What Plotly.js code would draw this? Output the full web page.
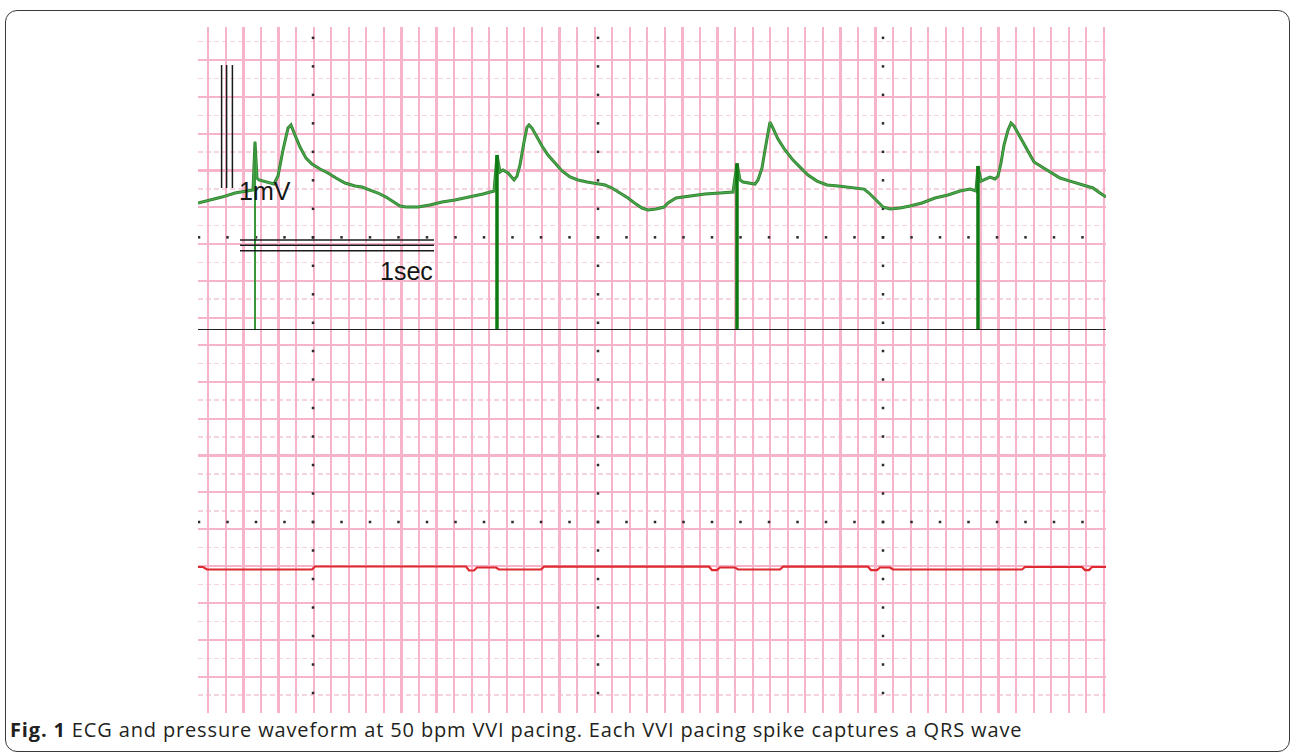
<!DOCTYPE html>
<html>
<head>
<meta charset="utf-8">
<script src="https://cdn.plot.ly/plotly-3.0.1.min.js"></script>
<style>
  html, body { margin: 0; padding: 0; background: #ffffff; }
  #wrap { position: relative; width: 1296px; height: 754px; overflow: hidden; }
  #frame { position: absolute; left: 5px; top: 10px; width: 1285px; height: 742px;
           box-sizing: border-box; border: 1.5px solid #3a3a3a; border-radius: 12px; }
  #chart { position: absolute; left: 0; top: 0; width: 1296px; height: 754px; }
  #caption { position: absolute; left: 10px; top: 716px; font-family: "Open Sans", "Noto Sans", sans-serif;
             font-size: 20px; letter-spacing: 0.85px; color: #231f20; white-space: nowrap; line-height: normal; }
  #caption b { font-weight: 700; }
</style>
</head>
<body>
<div id="wrap">
  <div id="frame"></div>
  <div id="chart"></div>
  <div id="caption"><b>Fig. 1</b> ECG and pressure waveform at 50 bpm VVI pacing. Each VVI pacing spike captures a QRS wave</div>
</div>
<script>
// ---------------- DATA ----------------
// ECG channel: time (s) and voltage (mV)
const ecgTime = [0.000,0.060,0.120,0.185,0.235,0.275,0.285,0.295,0.305,0.340,0.380,0.400,0.425,0.450,0.465,0.485,0.510,0.540,0.570,0.610,0.650,0.690,0.735,0.785,0.820,0.860,0.900,0.940,0.980,1.010,1.040,1.100,1.160,1.220,1.285,1.360,1.425,1.480,
  1.495,1.510,1.525,1.550,1.570,1.580,1.595,1.610,1.630,1.645,1.655,1.670,1.695,1.720,1.750,1.785,1.820,1.860,1.900,1.945,1.995,2.035,2.070,2.110,2.150,2.190,2.220,2.250,2.290,2.330,2.350,2.390,2.460,2.535,2.610,2.675,
  2.695,2.710,2.725,2.760,2.785,2.800,2.820,2.835,2.845,2.855,2.860,2.875,2.900,2.935,2.975,3.010,3.050,3.095,3.145,3.200,3.250,3.300,3.330,3.355,3.390,3.425,3.460,3.510,3.560,3.620,3.685,3.750,3.810,3.860,3.890,
  3.900,3.915,3.935,3.960,3.985,4.000,4.015,4.030,4.050,4.065,4.080,4.110,4.145,4.180,4.220,4.260,4.310,4.360,4.410,4.450,4.475,4.510,4.540];
const ecgMv = [-0.024,0.000,0.024,0.057,0.073,0.081,0.474,0.179,0.163,0.146,0.130,0.195,0.407,0.585,0.610,0.528,0.431,0.341,0.293,0.252,0.220,0.179,0.138,0.114,0.106,0.081,0.057,0.024,-0.016,-0.049,-0.057,-0.057,-0.041,-0.016,0.000,0.024,0.049,0.073,
  0.366,0.228,0.244,0.220,0.187,0.163,0.195,0.285,0.472,0.593,0.610,0.585,0.512,0.439,0.366,0.301,0.236,0.187,0.163,0.146,0.130,0.122,0.098,0.057,0.016,-0.033,-0.065,-0.081,-0.073,-0.057,-0.024,0.016,0.033,0.049,0.057,0.065,
  0.298,0.163,0.146,0.138,0.130,0.163,0.260,0.407,0.488,0.585,0.634,0.585,0.496,0.407,0.325,0.268,0.203,0.154,0.122,0.114,0.106,0.098,0.089,0.057,0.000,-0.057,-0.073,-0.065,-0.049,-0.024,0.016,0.041,0.073,0.089,0.073,
  0.276,0.154,0.171,0.187,0.171,0.195,0.301,0.447,0.569,0.626,0.602,0.512,0.407,0.309,0.268,0.228,0.179,0.154,0.130,0.114,0.098,0.057,0.024];

// VVI pacing spikes: time (s) and top of spike (mV); they reach down to the channel floor
const spikeTime = [0.285, 1.495, 2.695, 3.900];
const spikeTop  = [0.474, 0.366, 0.298, 0.276];

// Pressure channel: time (s) and pressure (mmHg, arbitrary baseline)
const presTime = [0.000,0.025,0.045,0.570,0.585,1.340,1.355,1.380,1.395,1.490,1.505,1.715,1.730,2.555,2.570,2.595,2.610,2.685,2.700,2.910,2.925,3.350,3.365,3.395,3.410,3.460,3.475,3.890,3.905,4.120,4.135,4.420,4.435,4.455,4.470,4.540];
const presVal  = [39.60,39.60,38.92,38.92,39.73,39.73,38.65,38.65,39.46,39.46,38.92,38.92,39.68,39.68,38.78,38.78,39.46,39.46,38.92,38.92,39.68,39.68,38.78,38.78,39.46,39.46,38.92,38.92,38.92,38.92,39.60,39.60,38.78,38.78,39.60,39.60];

// Calibration marks
const calMvTimes = [0.118, 0.143, 0.172];   // three 1 mV bars
const calMvBase = 0.0976;                     // mV
const calMvSize = 1.0;                        // mV
const calSecLevels = [-0.325, -0.368, -0.412];// mV, three 1 s bars
const calSecStart = 0.21;                     // s
const calSecSize = 0.97;                      // s (as drawn)
const calLabels = ["1mV", "1sec"];

// Monitor grid decorations
const gridXTick0 = 0.0515, gridXStep = 0.0878;          // s
const ecgGridTick0 = 1.1382, ecgGridStep = 0.2992;       // mV
const presGridTick0 = 9.845, presGridStep = 10.0;        // mmHg
const dotColTimes = [0.575, 2.0, 3.425];                 // s
const dotStepT = 0.1425;                                 // s
const ecgDotRow = -0.3033, ecgDotStep = 0.2317;          // mV
const presDotRow = 51.80, presDotStep = 7.73;            // mmHg

const xRange = [0, 4.54];
const ecgRange = [-1.057, 1.407];
const presRange = [0, 103.88];

// ---------------- BUILD ----------------
const spikeX = [], spikeY = [], spikeX1 = [], spikeY1 = [];
spikeTime.forEach((t, i) => {
  if (i === 0) { spikeX1.push(t, t, null); spikeY1.push(ecgRange[0], spikeTop[i], null); }
  else { spikeX.push(t, t, null); spikeY.push(ecgRange[0], spikeTop[i], null); }
});

// dots along dotted grid lines
const ecgDotX = [], ecgDotY = [], presDotX = [], presDotY = [];
dotColTimes.forEach(t => {
  for (let k = -12; k <= 12; k++) {
    const v = ecgDotRow + k * ecgDotStep;
    if (v > ecgRange[0] + 0.03 && v < ecgRange[1]) { ecgDotX.push(t); ecgDotY.push(v); }
    const p = presDotRow + k * presDotStep;
    if (p > presRange[0] && p < presRange[1] - 1) { presDotX.push(t); presDotY.push(p); }
  }
});
for (let k = -20; k <= 20; k++) {
  const t = dotColTimes[1] + k * dotStepT;
  if (t > xRange[0] && t < xRange[1]) {
    ecgDotX.push(t); ecgDotY.push(ecgDotRow);
    presDotX.push(t); presDotY.push(presDotRow);
  }
}

const traces = [
  { x: ecgDotX, y: ecgDotY, xaxis: 'x', yaxis: 'y', mode: 'markers', type: 'scatter',
    marker: { symbol: 'square', size: 2.5, color: '#2a2a2a' }, hoverinfo: 'skip' },
  { x: presDotX, y: presDotY, xaxis: 'x', yaxis: 'y2', mode: 'markers', type: 'scatter',
    marker: { symbol: 'square', size: 2.5, color: '#2a2a2a' }, hoverinfo: 'skip' },
  { x: presTime, y: presVal, xaxis: 'x', yaxis: 'y2', mode: 'lines', type: 'scatter',
    line: { color: '#dd2a2e', width: 2.2 } },
  { x: ecgTime, y: ecgMv, xaxis: 'x', yaxis: 'y', mode: 'lines', type: 'scatter',
    line: { color: '#2f7f30', width: 3 } },
  { x: ecgTime, y: ecgMv, xaxis: 'x', yaxis: 'y', mode: 'lines', type: 'scatter',
    line: { color: '#48a848', width: 1.4 } },
  { x: spikeX1, y: spikeY1, xaxis: 'x', yaxis: 'y', mode: 'lines', type: 'scatter',
    line: { color: '#3a963a', width: 2 } },
  { x: spikeX, y: spikeY, xaxis: 'x', yaxis: 'y', mode: 'lines', type: 'scatter',
    line: { color: '#0d7a12', width: 3.5 } }
];

const shapes = [];
calMvTimes.forEach(t => shapes.push({ type: 'line', xref: 'x', yref: 'y', x0: t, x1: t,
  y0: calMvBase, y1: calMvBase + calMvSize, line: { color: '#1a1a1a', width: 1.5 } }));
calSecLevels.forEach(v => shapes.push({ type: 'line', xref: 'x', yref: 'y', x0: calSecStart, x1: calSecStart + calSecSize,
  y0: v, y1: v, line: { color: '#1a1a1a', width: 1.5 } }));
// channel separator
shapes.push({ type: 'line', xref: 'paper', yref: 'y', x0: 0, x1: 1, y0: ecgRange[0], y1: ecgRange[0],
  line: { color: '#222222', width: 2 } });

const annotations = [
  { xref: 'x', yref: 'y', x: 0.195, y: 0.073, text: calLabels[0], showarrow: false, xanchor: 'left', yanchor: 'middle',
    font: { family: 'Liberation Sans, Arial, sans-serif', size: 25, color: '#151515' } },
  { xref: 'x', yref: 'y', x: 1.185, y: -0.577, text: calLabels[1], showarrow: false, xanchor: 'right', yanchor: 'middle',
    font: { family: 'Liberation Sans, Arial, sans-serif', size: 25, color: '#151515' } }
];

const gridMajor = '#f7b3ca', gridMinor = '#f6d3dd';
const layout = {
  width: 1296, height: 754,
  margin: { l: 198, r: 190, t: 27, b: 41, pad: 0 },
  paper_bgcolor: 'rgba(0,0,0,0)', plot_bgcolor: '#ffffff',
  showlegend: false,
  xaxis: { range: xRange, domain: [0, 1], showticklabels: false, ticks: '', zeroline: false, showline: false,
    showgrid: true, tick0: gridXTick0, dtick: gridXStep, gridcolor: gridMajor, gridwidth: 2.2 },
  yaxis: { range: ecgRange, domain: [0.5583, 1], anchor: 'x', showticklabels: false, ticks: '', zeroline: false, showline: false,
    showgrid: true, tick0: ecgGridTick0, dtick: ecgGridStep, gridcolor: gridMajor, gridwidth: 2.2,
    minor: { tick0: ecgGridTick0, dtick: ecgGridStep / 2, showgrid: true, gridcolor: gridMinor, gridwidth: 1.5, griddash: '5px,3px', ticks: '' } },
  yaxis2: { range: presRange, domain: [0, 0.5583], anchor: 'x', showticklabels: false, ticks: '', zeroline: false, showline: false,
    showgrid: true, tick0: presGridTick0, dtick: presGridStep, gridcolor: gridMajor, gridwidth: 2.2,
    minor: { tick0: presGridTick0, dtick: presGridStep / 2, showgrid: true, gridcolor: gridMinor, gridwidth: 1.5, griddash: '5px,3px', ticks: '' } },
  shapes: shapes,
  annotations: annotations
};

Plotly.newPlot('chart', traces, layout, { staticPlot: true, displayModeBar: false });
</script>
</body>
</html>
